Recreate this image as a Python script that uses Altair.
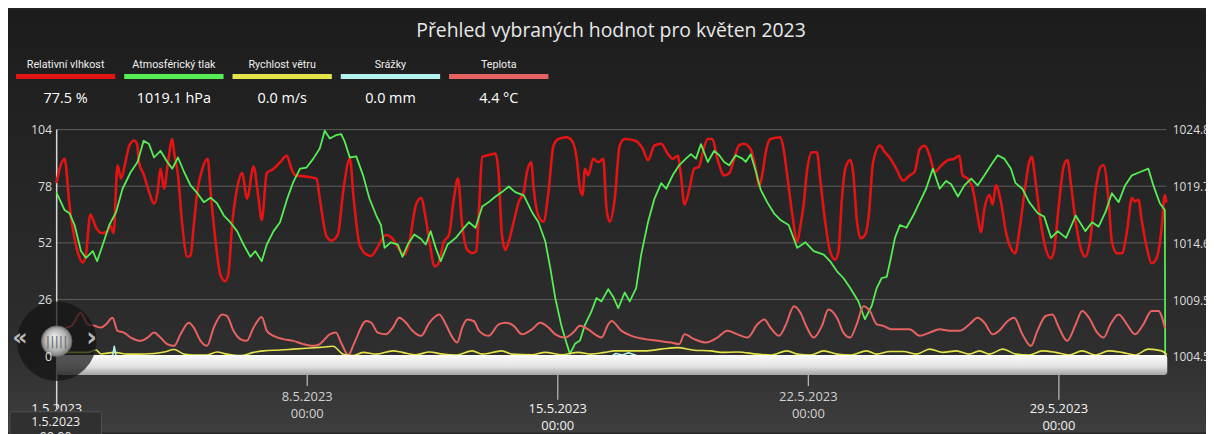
import altair as alt
import pandas as pd

# ---------------- data (x = days since 1.5.2023 00:00) ----------------
hum_day = [0.0, 0.1, 0.22, 0.36, 0.5, 0.62, 0.73, 0.82, 0.94, 1.1, 1.25, 1.4, 1.5, 1.59, 1.7, 1.8, 1.92,
           2.03, 2.17, 2.25, 2.3, 2.44, 2.58, 2.72, 2.82, 2.9, 3.0, 3.1, 3.23, 3.28, 3.39, 3.51, 3.65,
           3.74, 3.83, 3.93, 4.07, 4.22, 4.3, 4.44, 4.57, 4.71, 4.8, 4.9, 5.04, 5.18, 5.32, 5.5, 5.64,
           5.73, 5.87, 6.06, 6.24, 6.43, 6.56, 6.66, 6.98, 7.26, 7.35, 7.54, 7.68, 7.86, 8.0, 8.19, 8.3,
           8.46, 8.65, 8.79, 8.93, 9.2, 9.38, 9.57, 9.71, 9.85, 10.04, 10.18, 10.31, 10.45, 10.55, 10.65,
           10.82, 10.96, 11.1, 11.21, 11.33, 11.47, 11.61, 11.72, 11.8, 11.89, 12.07, 12.26, 12.35, 12.44,
           12.54, 12.63, 12.77, 12.91, 13.05, 13.14, 13.26, 13.32, 13.46, 13.6, 13.74, 13.88, 14.02, 14.25,
           14.39, 14.53, 14.62, 14.69, 14.76, 14.85, 14.99, 15.13, 15.27, 15.36, 15.45, 15.59, 15.73, 15.87,
           16.15, 16.38, 16.52, 16.7, 16.89, 17.07, 17.21, 17.35, 17.44, 17.54, 17.68, 17.81, 17.95, 18.05,
           18.19, 18.32, 18.46, 18.65, 18.79, 18.93, 19.06, 19.2, 19.39, 19.53, 19.62, 19.71, 19.81, 19.94,
           20.22, 20.31, 20.41, 20.55, 20.69, 20.78, 20.87, 20.96, 21.1, 21.24, 21.33, 21.47, 21.61, 21.75,
           21.84, 21.94, 22.03, 22.17, 22.26, 22.35, 22.46, 22.58, 22.68, 22.81, 23.0, 23.14, 23.28, 23.46,
           23.65, 23.83, 23.97, 24.11, 24.25, 24.39, 24.53, 24.72, 24.9, 25.08, 25.22, 25.31, 25.45, 25.59,
           25.73, 25.82, 25.92, 26.06, 26.15, 26.24, 26.38, 26.52, 26.66, 26.78, 26.89, 27.03, 27.17, 27.24,
           27.35, 27.49, 27.63, 27.77, 27.86, 28.0, 28.14, 28.24, 28.33, 28.47, 28.61, 28.74, 28.88, 29.02,
           29.16, 29.25, 29.39, 29.48, 29.62, 29.76, 29.9, 30.04, 30.13, 30.22, 30.32, 30.46, 30.59, 30.73,
           30.87, 30.96, 31.0]
hum_val = [80, 87, 90.6, 69, 54, 46, 43, 47, 65, 59, 56.5, 57, 60, 56.5, 87.6, 81.5, 89,
           96.7, 99, 97, 89, 83, 75.5, 70, 75.5, 86, 77, 87.6, 99.7, 93.6, 83, 60, 45.7,
           46, 60, 75.5, 86, 90.6, 75.5, 52.6, 37.5, 34.4, 38, 60, 77, 84, 72.4, 87, 72.4,
           62.5, 84, 86, 89, 92, 86, 83, 82.4, 81.5, 72.4, 55, 53, 56, 75, 90.6, 72,
           51.3, 46.7, 46, 49, 55.6, 54, 49, 46.5, 52, 69.6, 72.6, 63.3, 49, 41.2, 42,
           52.6, 55.6, 72.6, 81.5, 60, 48.8, 47.3, 48, 67.8, 91.5, 92.3, 93, 83, 55.6,
           48.8, 52.6, 61.7, 70.8, 75.5, 84.6, 89, 78, 64.3, 61.7, 75.5, 96.7, 99.7, 100.5,
           99, 90.6, 77, 74, 86, 83, 90.6, 89, 90.6, 67.8, 61.7, 72, 96.7, 99.7,
           99, 95, 90, 96.7, 97.5, 93, 90.6, 92, 83, 69.6, 77, 86, 87, 93.6,
           99.7, 99.7, 90.6, 83, 84, 90.6, 96.7, 97.5, 95, 86, 78, 83, 93.6, 99.7,
           100.5, 95, 83, 65.4, 52.6, 60, 69.6, 84.6, 93.6, 93.6, 81.5, 61.7, 48, 44.3,
           48, 72.6, 86, 90, 83, 63.3, 54.1, 55.5, 63.3, 89, 96.7, 93.6, 91, 86,
           80.6, 83, 84.6, 95, 96.6, 92, 84.6, 87.6, 90, 90.6, 92, 83, 81.5, 77,
           64.3, 57, 67.8, 74, 69.6, 78.4, 71, 57, 49.5, 47.2, 57, 74, 89, 91.5,
           79.9, 61.7, 49.5, 44.9, 48, 69.6, 87.6, 90, 79.9, 61.7, 49.5, 45.7, 54, 75.5,
           86.8, 87.6, 71, 52.6, 47.2, 47.2, 57, 72.6, 71, 71.8, 61.7, 49.5, 42.6, 45,
           58.6, 74, 71]

pres_day = [0.0, 0.22, 0.36, 0.5, 0.68, 0.82, 1.01, 1.13, 1.29, 1.47, 1.66, 1.84, 2.07, 2.26, 2.43,
            2.58, 2.72, 2.9, 3.09, 3.23, 3.39, 3.56, 3.74, 3.93, 4.11, 4.3, 4.48, 4.67, 4.85, 5.04,
            5.22, 5.41, 5.55, 5.73, 5.87, 6.06, 6.24, 6.43, 6.61, 6.8, 6.98, 7.17, 7.35, 7.49, 7.63,
            7.8, 7.95, 8.05, 8.19, 8.37, 8.56, 8.74, 8.93, 9.06, 9.16, 9.34, 9.53, 9.66, 9.81, 9.99,
            10.18, 10.31, 10.45, 10.59, 10.73, 10.92, 11.15, 11.38, 11.52, 11.7, 11.89, 12.07, 12.26,
            12.44, 12.63, 12.81, 13.05, 13.28, 13.46, 13.65, 13.79, 13.93, 14.11, 14.25, 14.34, 14.48,
            14.62, 14.76, 14.94, 15.08, 15.22, 15.41, 15.55, 15.69, 15.87, 16.01, 16.19, 16.33, 16.52,
            16.7, 16.89, 17.03, 17.21, 17.39, 17.58, 17.72, 17.86, 18.0, 18.19, 18.37, 18.51, 18.65,
            18.79, 18.97, 19.16, 19.25, 19.39, 19.53, 19.67, 19.85, 20.04, 20.22, 20.45, 20.69, 20.92,
            21.15, 21.43, 21.61, 21.8, 21.98, 22.17, 22.4, 22.58, 22.77, 22.91, 23.05, 23.19, 23.3,
            23.42, 23.56, 23.74, 23.93, 24.11, 24.29, 24.48, 24.67, 24.85, 24.99, 25.18, 25.36, 25.55,
            25.73, 25.92, 26.1, 26.29, 26.47, 26.66, 26.79, 26.98, 27.17, 27.41, 27.59, 27.78, 27.97,
            28.2, 28.47, 28.74, 28.93, 29.11, 29.3, 29.48, 29.67, 29.85, 30.04, 30.27, 30.5, 30.64,
            30.82, 30.96, 30.97]
pres_val = [1019.1, 1017.6, 1017.3, 1016.25, 1013.9, 1013.3, 1013.9, 1013.0, 1014.5, 1016.25, 1017.4,
            1019.5, 1021.0, 1021.9, 1023.8, 1023.5, 1022.3, 1022.9, 1021.9, 1021.3, 1022.3, 1021.0,
            1019.8, 1019.1, 1018.3, 1018.7, 1018.2, 1017.1, 1016.5, 1015.7, 1014.5, 1013.4, 1013.9,
            1013.0, 1014.5, 1015.7, 1016.5, 1018.5, 1020.1, 1021.3, 1021.4, 1022.2, 1023.1, 1024.7,
            1024.0, 1024.3, 1024.4, 1023.7, 1022.3, 1022.4, 1020.7, 1018.6, 1017.1, 1016.25, 1014.2,
            1014.7, 1014.5, 1013.4, 1014.5, 1015.4, 1015.0, 1014.5, 1015.7, 1014.2, 1013.0, 1014.5,
            1015.1, 1016.0, 1016.5, 1016.0, 1017.9, 1018.3, 1018.8, 1019.2, 1019.7, 1019.2, 1018.9,
            1017.4, 1016.5, 1014.8, 1012.4, 1009.7, 1007.1, 1005.6, 1004.7, 1005.6, 1005.9, 1007.3,
            1008.5, 1009.7, 1009.4, 1010.5, 1009.8, 1008.8, 1010.2, 1009.4, 1010.6, 1013.6, 1016.5,
            1018.6, 1020.0, 1019.5, 1020.7, 1021.6, 1022.2, 1022.6, 1022.2, 1023.5, 1021.9, 1022.9,
            1022.5, 1021.9, 1021.6, 1022.5, 1022.2, 1021.9, 1022.6, 1021.1, 1019.4, 1018.3, 1017.3,
            1016.7, 1016.25, 1014.2, 1014.7, 1013.9, 1013.6, 1013.0, 1012.1, 1011.5, 1010.6, 1009.4,
            1007.8, 1009.0, 1010.6, 1011.5, 1011.6, 1013.2, 1015.1, 1016.25, 1016.0, 1017.1, 1018.3,
            1019.5, 1021.3, 1019.5, 1020.2, 1019.9, 1018.8, 1019.8, 1020.4, 1019.8, 1020.7, 1021.6,
            1022.5, 1022.2, 1021.3, 1020.0, 1019.5, 1018.3, 1017.3, 1017.0, 1015.1, 1015.7, 1015.1,
            1017.1, 1015.7, 1016.5, 1016.1, 1017.4, 1019.1, 1018.3, 1019.8, 1020.7, 1021.0, 1021.3,
            1019.8, 1018.2, 1017.6, 1004.5]

temp_day = [0.0, 0.42, 0.67, 0.87, 1.06, 1.24, 1.38, 1.56, 1.7, 1.88, 2.07, 2.35, 2.54, 2.72, 2.9,
            3.09, 3.28, 3.46, 3.69, 3.83, 4.02, 4.2, 4.39, 4.62, 4.76, 4.94, 5.13, 5.31, 5.5, 5.73,
            5.87, 6.06, 6.33, 6.61, 6.89, 7.17, 7.35, 7.63, 7.8, 7.95, 8.15, 8.3, 8.65, 8.79, 8.97,
            9.2, 9.39, 9.57, 9.76, 9.94, 10.18, 10.41, 10.69, 10.87, 11.06, 11.19, 11.33, 11.47, 11.66,
            11.8, 12.07, 12.35, 12.54, 12.77, 13.0, 13.28, 13.51, 13.74, 13.93, 14.2, 14.43, 14.62,
            14.85, 15.04, 15.22, 15.41, 15.5, 15.78, 16.06, 16.43, 16.8, 17.17, 17.39, 17.54, 17.81,
            18.14, 18.46, 18.74, 19.02, 19.3, 19.58, 19.77, 19.94, 20.18, 20.36, 20.6, 20.78, 20.96,
            21.15, 21.38, 21.56, 21.8, 21.98, 22.17, 22.35, 22.54, 22.72, 22.91, 23.09, 23.32, 23.56,
            23.83, 24.11, 24.39, 24.67, 24.94, 25.22, 25.5, 25.73, 25.92, 26.15, 26.33, 26.57, 26.75,
            26.98, 27.22, 27.4, 27.63, 27.82, 28.0, 28.23, 28.47, 28.65, 28.84, 29.07, 29.25, 29.44,
            29.67, 29.9, 30.13, 30.36, 30.59, 30.78, 30.96]
temp_val = [12, 14, 19.9, 14.6, 13.9, 13.1, 14.6, 17.6, 11.6, 10.8, 8.5, 7.0, 8.5, 10.8, 8.5,
            5.5, 4.7, 10, 15.3, 13.1, 7, 4.7, 13.1, 19.1, 18.4, 11.6, 7.8, 7, 13.1, 18,
            11.6, 9.3, 7.8, 7, 5.5, 4.7, 5.5, 10, 10.8, 6, 0.5, 5.5, 16.1, 15.3, 10.8,
            10, 13.1, 17.6, 15.3, 11.6, 9.3, 15.3, 19.1, 14.6, 8.5, 6.2, 13.1, 16.8, 16,
            11.6, 9.3, 14.6, 15.3, 13.9, 10, 12.3, 15.3, 13.1, 10, 8.5, 10.8, 13.9,
            12.3, 10, 8.5, 14.6, 16.1, 11.6, 9.3, 7.8, 7, 6.2, 5.5, 10, 7.8,
            6.2, 8.5, 11.6, 10, 8.5, 14.6, 16.8, 13.1, 9.3, 13.9, 22.9, 19.9, 13.1,
            8.5, 13.9, 21.4, 17.6, 10.8, 8.5, 14.6, 22.9, 20.7, 14.6, 13.9, 12.3, 12.3,
            12.3, 9.3, 10.8, 12.3, 11.6, 11.6, 14.6, 17.6, 15.3, 10, 11.6, 16.1, 17.6,
            10, 4.7, 11.6, 18.4, 19.1, 13.1, 7, 14.6, 20.7, 17.6, 10.8, 8.5, 14.6,
            19.1, 14.6, 10, 14.6, 20.7, 20.7, 13.1]

wind_day = [0.0, 0.87, 1.1, 1.24, 1.61, 1.98, 2.26, 2.72, 3.0, 3.28, 3.56, 3.83, 4.2, 4.48, 4.76,
            5.13, 5.5, 5.78, 6.24, 6.61, 6.98, 7.35, 7.72, 8.0, 8.28, 8.56, 8.93, 9.39, 9.66, 10.04,
            10.41, 10.78, 11.15, 11.61, 11.89, 12.44, 12.72, 13.28, 13.65, 14.11, 14.57, 14.94, 15.31,
            15.59, 15.96, 16.43, 16.89, 17.35, 17.81, 18.28, 18.56, 19.02, 19.57, 19.94, 20.41, 20.69,
            21.06, 21.43, 21.8, 22.17, 22.63, 22.91, 23.28, 23.65, 24.02, 24.39, 24.76, 25.13, 25.5,
            25.78, 26.06, 26.43, 26.8, 27.17, 27.54, 27.91, 28.28, 28.65, 29.02, 29.39, 29.76, 30.13,
            30.5, 30.87, 31.0]
wind_val = [1.7, 1.7, 2.8, 1.0, 1.7, 0.9, 0.9, 1.2, 1.9, 3.0, 0.9, 0.5, 0.5, 1.9, 0.9,
            0.2, 1.7, 2.4, 2.8, 3.2, 3.6, 4.0, 4.5, 0.9, 0.2, 1.7, 0.9, 2.4, 1.7, 0.6,
            1.9, 0.9, 0.5, 2.4, 0.9, 2.4, 0.9, 0.6, 1.7, 0.6, 1.7, 0.9, 1.7,
            2.4, 2.4, 2.4, 3.2, 3.9, 2.7, 2.4, 1.7, 1.9, 0.9, 0.5, 2.4, 0.9,
            0.5, 2.4, 0.9, 0.5, 2.4, 0.9, 2.1, 2.1, 0.9, 3.2, 1.7, 2.4, 0.9,
            2.4, 0.9, 3.2, 0.9, 0.5, 2.4, 1.7, 0.5, 2.4, 0.5, 2.4, 1.7, 0.5,
            3.2, 2.4, 0.9]

rain_day = [0.0, 1.56, 1.61, 1.66, 15.5, 15.62, 15.8, 15.98, 16.2, 16.4, 31.0]
rain_val = [0, 0, 4.5, 0, 0, 1.2, 0.5, 1.5, 0.3, 0, 0]

series_names = ["Relativní vlhkost", "Atmosférický tlak", "Rychlost větru", "Srážky", "Teplota"]
series_current = ["77.5 %", "1019.1 hPa", "0.0 m/s", "0.0 mm", "4.4 °C"]
series_colors = ["#e41414", "#55ee55", "#e4e44a", "#b4f2ee", "#e86262"]

left_ticks = [0, 26, 52, 78, 104]
right_ticks = [1004.5, 1009.5, 1014.6, 1019.7, 1024.8]
x_tick_days = [0, 7, 14, 21, 28]
x_tick_dates = ["1.5.2023", "8.5.2023", "15.5.2023", "22.5.2023", "29.5.2023"]
x_tick_time = "00:00"
title_text = "Přehled vybraných hodnot pro květen 2023"

# ---------------- layout ----------------
W, H = 1117, 228
PL, PT, PR, PB = 49, 121, 40, 77
FONT = "Open Sans"
one = pd.DataFrame({"k": [0]})

xs = alt.Scale(domain=[0, 31], nice=False, zero=False)
ysl = alt.Scale(domain=[left_ticks[0], left_ticks[-1]], nice=False, zero=False)
ysr = alt.Scale(domain=[right_ticks[0], right_ticks[-1]], nice=False, zero=False)

layers = []

# background panel
bg_grad = {"gradient": "linear", "x1": 0, "y1": 0, "x2": 0, "y2": 1,
           "stops": [{"offset": 0, "color": "#1c1c1c"}, {"offset": 0.3, "color": "#232323"},
                     {"offset": 0.8, "color": "#2e2e2e"}, {"offset": 1, "color": "#3e3e3e"}]}
layers.append(alt.Chart(one).mark_rect(fill=bg_grad).encode(
    x=alt.value(-PL), x2=alt.value(W + PR), y=alt.value(-PT), y2=alt.value(H + PB)))

# grid lines
layers.append(alt.Chart(pd.DataFrame({"v": left_ticks[1:]})).mark_rule(
    color="#5e5e5e", strokeWidth=1).encode(
    y=alt.Y("v:Q", scale=ysl, axis=None), x=alt.value(0), x2=alt.value(W)))

# left axis line
layers.append(alt.Chart(one).mark_rule(color="#d8d8d8", strokeWidth=1.5).encode(
    x=alt.value(0), y=alt.value(0), y2=alt.value(281)))

def line(days, vals, color, width, scale, axis, interp="linear"):
    df = pd.DataFrame({"d": days, "v": vals})
    return alt.Chart(df).mark_line(color=color, strokeWidth=width, interpolate=interp,
                                   strokeJoin="round", strokeCap="round").encode(
        x=alt.X("d:Q", scale=xs, axis=None),
        y=alt.Y("v:Q", scale=scale, axis=axis))

left_axis = alt.Axis(values=left_ticks, orient="left", grid=False, domain=False, ticks=False,
                     labelColor="#dcdcdc", labelFont=FONT, labelFontSize=12.5, labelPadding=5,
                     title=None, zindex=1)
right_axis = alt.Axis(values=right_ticks, orient="right", grid=False, domain=False, ticks=False,
                      labelColor="#dcdcdc", labelFont=FONT, labelFontSize=12, labelPadding=6,
                      format=".1f", title=None, zindex=1)

layers.append(line(hum_day, hum_val, series_colors[0], 2.6, ysl, left_axis, "monotone"))
layers.append(line(pres_day, pres_val, series_colors[1], 1.8, ysr, right_axis))
layers.append(line(temp_day, temp_val, series_colors[4], 2.0, ysl, None, "monotone"))
layers.append(line(wind_day, wind_val, series_colors[2], 1.6, ysl, None, "monotone"))
layers.append(line(rain_day, rain_val, series_colors[3], 1.6, ysl, None))

# navigator bar
bar_grad = {"gradient": "linear", "x1": 0, "y1": 0, "x2": 0, "y2": 1,
            "stops": [{"offset": 0, "color": "#fbfbfb"}, {"offset": 0.55, "color": "#e4e4e4"},
                      {"offset": 1, "color": "#a4a4a4"}]}
layers.append(alt.Chart(one).mark_rect(fill=bar_grad, cornerRadius=3).encode(
    x=alt.value(0), x2=alt.value(W + 1), y=alt.value(H - 1), y2=alt.value(H + 19)))

# x ticks and labels (staggered)
ticks = pd.DataFrame({"d": x_tick_days, "lab": x_tick_dates, "i": list(range(len(x_tick_days)))})
ticks["t"] = x_tick_time
hi = ticks[ticks["i"] % 2 == 1]
lo = ticks[(ticks["i"] % 2 == 0)]
lo_noaxis = lo[lo["i"] > 0]
for df, y2 in ((hi, 258), (lo_noaxis, 272)):
    layers.append(alt.Chart(df).mark_rule(color="#bdbdbd", strokeWidth=1.2).encode(
        x=alt.X("d:Q", scale=xs, axis=None), y=alt.value(H + 19), y2=alt.value(y2)))
for df, y1, col in ((hi, 269, "#d2d2d2"), (lo, 281.5, "#f2f2f2")):
    layers.append(alt.Chart(df).mark_text(font=FONT, fontSize=13, color=col, baseline="middle").encode(
        x=alt.X("d:Q", scale=xs, axis=None), y=alt.value(y1), text="lab:N"))
    layers.append(alt.Chart(df).mark_text(font=FONT, fontSize=13, color=col, baseline="middle").encode(
        x=alt.X("d:Q", scale=xs, axis=None), y=alt.value(y1 + 17), text="t:N"))

# scroll control (circle, knob, arrows)
layers.append(alt.Chart(one).mark_point(shape="circle", filled=True, size=6400, color="#141414",
                                        opacity=0.72).encode(x=alt.value(0), y=alt.value(213)))
knob_grad = {"gradient": "radial", "x1": 0.4, "y1": 0.35, "r1": 0, "x2": 0.5, "y2": 0.5, "r2": 0.5,
             "stops": [{"offset": 0, "color": "#f0f0f0"}, {"offset": 0.7, "color": "#b4b4b4"},
                       {"offset": 1, "color": "#7a7a7a"}]}
layers.append(alt.Chart(one).mark_point(shape="circle", filled=True, size=950, fill=knob_grad,
                                        opacity=1, stroke="#666666", strokeWidth=0.8).encode(
    x=alt.value(0), y=alt.value(213)))
layers.append(alt.Chart(one).mark_text(text="|||||", font="DejaVu Sans", fontSize=13, color="#6a6a6a",
                                       baseline="middle").encode(x=alt.value(0), y=alt.value(213)))
layers.append(alt.Chart(one).mark_text(text="«", font="DejaVu Sans", fontSize=24, fontWeight="bold",
                                       color="#b8b8b8", baseline="middle").encode(
    x=alt.value(-37), y=alt.value(210)))
layers.append(alt.Chart(one).mark_text(text="›", font="DejaVu Sans", fontSize=26, fontWeight="bold",
                                       color="#b8b8b8", baseline="middle").encode(
    x=alt.value(35), y=alt.value(210)))

# tooltip box bottom-left
layers.append(alt.Chart(one).mark_rect(fill="#303030", stroke="#505050", strokeWidth=1,
                                       cornerRadius=2).encode(
    x=alt.value(-47), x2=alt.value(45), y=alt.value(284), y2=alt.value(312)))
layers.append(alt.Chart(one).mark_text(text=x_tick_dates[0], font=FONT, fontSize=12.5, color="#f0f0f0",
                                       baseline="middle").encode(x=alt.value(-1), y=alt.value(294)))
layers.append(alt.Chart(one).mark_text(text=x_tick_time, font=FONT, fontSize=12.5, color="#f0f0f0",
                                       baseline="middle").encode(x=alt.value(-1), y=alt.value(309)))

# title
layers.append(alt.Chart(one).mark_text(text=title_text, font=FONT, fontSize=19.5, color="#e8e8e8",
                                       baseline="middle").encode(x=alt.value(558), y=alt.value(-99)))

# legend boxes
for i, (nm, cur, col) in enumerate(zip(series_names, series_current, series_colors)):
    cx = 9 + 109 * i
    layers.append(alt.Chart(one).mark_text(text=nm, font="Roboto", fontSize=10.8, color="#eeeeee",
                                           baseline="middle").encode(x=alt.value(cx), y=alt.value(-65)))
    layers.append(alt.Chart(one).mark_rect(color=col).encode(
        x=alt.value(cx - 50), x2=alt.value(cx + 50), y=alt.value(-56), y2=alt.value(-51)))
    layers.append(alt.Chart(one).mark_text(text=cur, font=FONT, fontSize=14.5, color="#ffffff",
                                           baseline="middle").encode(x=alt.value(cx), y=alt.value(-31)))

chart = alt.layer(*layers).resolve_scale(y="independent").properties(
    width=W, height=H,
    padding={"left": PL, "top": PT, "right": PR, "bottom": PB},
    autosize=alt.AutoSizeParams(type="none"),
    background="#262626",
).configure_view(stroke=None)

chart.save("out.html", embed_options={"renderer": "svg", "actions": False})
